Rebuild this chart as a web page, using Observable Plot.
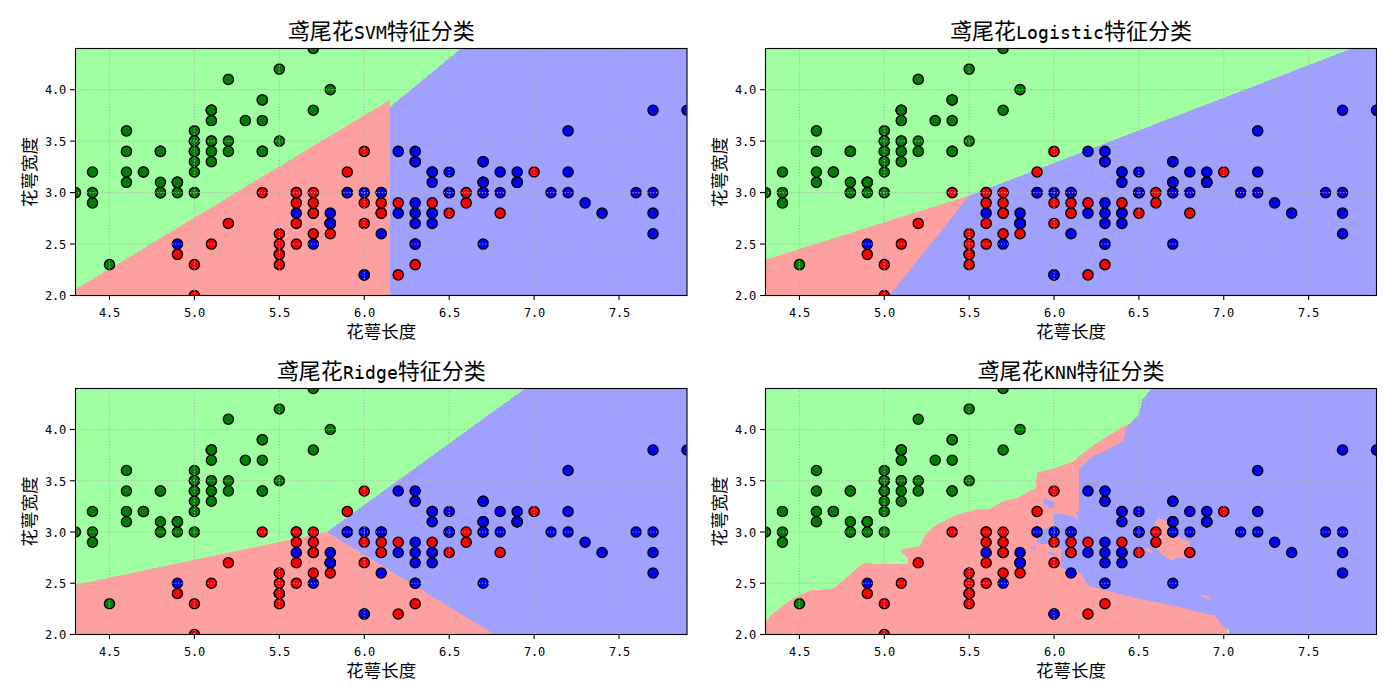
<!DOCTYPE html>
<html>
<head>
<meta charset="utf-8">
<style>
@font-face{font-family:"HalfLatin";src:local("DejaVu Sans Mono");size-adjust:83%;unicode-range:U+0020-007E}
html,body{margin:0;padding:0;background:#fff}
#fig{position:relative;width:1400px;height:700px;overflow:hidden}
#fig svg{position:absolute;background:transparent;max-width:none}
</style>
<script src="https://cdn.jsdelivr.net/npm/d3@7"></script>
<script src="https://cdn.jsdelivr.net/npm/@observablehq/plot@0.6"></script>
</head>
<body>
<div id="fig"></div>
<script>
// Iris sepal measurements, in drawing order
const setosaLength = [5.1,4.9,4.7,4.6,5.0,5.4,4.6,5.0,4.4,4.9,5.4,4.8,4.8,4.3,5.8,5.7,5.4,5.1,5.7,5.1,5.4,5.1,4.6,5.1,4.8,5.0,5.0,5.2,5.2,4.7,4.8,5.4,5.2,5.5,4.9,5.0,5.5,4.9,4.4,5.1,5.0,4.5,4.4,5.0,5.1,4.8,5.1,4.6,5.3,5.0];
const setosaWidth  = [3.5,3.0,3.2,3.1,3.6,3.9,3.4,3.4,2.9,3.1,3.7,3.4,3.0,3.0,4.0,4.4,3.9,3.5,3.8,3.8,3.4,3.7,3.6,3.3,3.4,3.0,3.4,3.5,3.4,3.2,3.1,3.4,4.1,4.2,3.1,3.2,3.5,3.1,3.0,3.4,3.5,2.3,3.2,3.5,3.8,3.0,3.8,3.2,3.7,3.3];
const versicolorLength = [7.0,6.4,6.9,5.5,6.5,5.7,6.3,4.9,6.6,5.2,5.0,5.9,6.0,6.1,5.6,6.7,5.6,5.8,6.2,5.6,5.9,6.1,6.3,6.1,6.4,6.6,6.8,6.7,6.0,5.7,5.5,5.5,5.8,6.0,5.4,6.0,6.7,6.3,5.6,5.5,5.5,6.1,5.8,5.0,5.6,5.7,5.7,6.2,5.1,5.7];
const versicolorWidth  = [3.2,3.2,3.1,2.3,2.8,2.8,3.3,2.4,2.9,2.7,2.0,3.0,2.2,2.9,2.9,3.1,3.0,2.7,2.2,2.5,3.2,2.8,2.5,2.8,2.9,3.0,2.8,3.0,2.9,2.6,2.4,2.4,2.7,2.7,3.0,3.4,3.1,2.3,3.0,2.5,2.6,3.0,2.6,2.3,2.7,3.0,2.9,2.9,2.5,2.8];
const virginicaLength = [6.3,5.8,7.1,6.3,6.5,7.6,4.9,7.3,6.7,7.2,6.5,6.4,6.8,5.7,5.8,6.4,6.5,7.7,7.7,6.0,6.9,5.6,7.7,6.3,6.7,7.2,6.2,6.1,6.4,7.2,7.4,7.9,6.4,6.3,6.1,7.7,6.3,6.4,6.0,6.9,6.7,6.9,5.8,6.8,6.7,6.7,6.3,6.5,6.2,5.9];
const virginicaWidth  = [3.3,2.7,3.0,2.9,3.0,3.0,2.5,2.9,2.5,3.6,3.2,2.7,3.0,2.5,2.8,3.2,3.0,3.8,2.6,2.2,3.2,2.8,2.8,2.7,3.3,3.2,2.8,3.0,2.8,3.0,2.8,3.8,2.8,2.8,2.6,3.0,3.4,3.1,3.0,3.1,3.1,3.1,2.7,3.2,3.3,3.0,2.5,3.0,3.4,3.0];

// Axis text
const xTicks = [4.5,5.0,5.5,6.0,6.5,7.0,7.5];
const yTicks = [2.0,2.5,3.0,3.5,4.0];
const xLabel = "花萼长度";
const yLabel = "花萼宽度";

// Class regions, [sepal length, sepal width] outlines
const fullBox = [[4.3,2],[7.9,2],[7.9,4.4],[4.3,4.4]];

const svmRed  = [[4.3,2],[6.15,2],[6.15,3.9],[4.3,2.06]];
const svmBlue = [[6.15,2],[7.9,2],[7.9,4.4],[6.57,4.4],[6.15,3.83]];

const logisticRed  = [[4.3,2],[5.03,2],[5.5,2.97],[4.3,2.348]];
const logisticBlue = [[5.03,2],[7.9,2],[7.9,4.4],[7.756,4.4],[5.5,2.97]];

const ridgeRed  = [[4.3,2],[6.767,2],[5.78,3.0],[4.3,2.484]];
const ridgeBlue = [[6.767,2],[7.9,2],[7.9,4.4],[6.947,4.4],[5.78,3.0]];

const knnRed = [[4.3,2],[4.3,2.12],[4.33,2.18],[4.39,2.27],[4.47,2.36],[4.565,2.43],[4.70,2.45],[4.78,2.56],[4.88,2.70],[4.94,2.69],[5.14,2.69],[5.14,2.75],[5.105,2.79],[5.105,2.83],[5.21,2.865],[5.24,2.97],[5.31,3.075],[5.43,3.17],[5.55,3.22],[5.615,3.22],[5.70,3.30],[5.78,3.33],[5.89,3.425],[5.90,3.58],[6.0,3.62],[6.115,3.69],[6.21,3.82],[6.31,3.93],[6.39,4.01],[6.44,4.05],[6.46,4.05],[7.03,2]];
const knnBlue = [[6.577,4.4],[6.57,4.39],[6.52,4.29],[6.50,4.14],[6.44,4.05],[6.42,3.98],[6.41,3.885],[6.31,3.80],[6.23,3.74],[6.15,3.62],[6.15,3.205],[6.125,3.189],[6.144,3.147],[6.135,3.108],[6.111,3.153],[6.056,3.173],[5.997,3.173],[5.997,3.059],[5.948,3.037],[5.923,2.995],[5.903,2.92],[5.899,2.893],[5.968,2.875],[6.04,2.842],[6.04,2.646],[6.135,2.632],[6.174,2.553],[6.203,2.476],[6.31,2.428],[6.508,2.347],[6.704,2.282],[6.90,2.20],[6.949,2.185],[6.998,2.07],[7.03,2.045],[7.03,2],[7.9,2],[7.9,4.4]];
const knnBlueA = [[5.942,3.341],[5.968,3.309],[5.997,3.296],[5.997,3.231],[5.968,3.238],[5.942,3.270]];
const knnBlueB = [[5.860,2.855],[5.895,2.862],[5.895,2.829],[5.864,2.839]];
const knnBlueC = [[5.962,2.807],[6.007,2.791],[6.021,2.758],[5.978,2.778]];
const knnRedIsland = [[6.602,3.114],[6.622,3.134],[6.661,3.114],[6.684,3.011],[6.733,2.952],[6.798,2.907],[6.802,2.833],[6.812,2.768],[6.773,2.745],[6.724,2.752],[6.694,2.709],[6.681,2.735],[6.645,2.768],[6.616,2.816],[6.586,2.881],[6.582,3.011]];
const knnRedBitA = [[6.543,2.839],[6.557,2.842],[6.586,2.800],[6.567,2.794],[6.547,2.81]];
const knnRedBitB = [[6.855,2.385],[6.89,2.385],[6.926,2.356],[6.926,2.33],[6.89,2.356]];

const lightGreen = "#A0FFA0", lightRed = "#FFA0A0", lightBlue = "#A0A0FF";

const panels = [
  {title:"鸢尾花SVM特征分类", left:0, top:0, regions:[[svmRed,lightRed],[svmBlue,lightBlue]]},
  {title:"鸢尾花Logistic特征分类", left:700, top:0, regions:[[logisticRed,lightRed],[logisticBlue,lightBlue]]},
  {title:"鸢尾花Ridge特征分类", left:0, top:350, regions:[[ridgeRed,lightRed],[ridgeBlue,lightBlue]]},
  {title:"鸢尾花KNN特征分类", left:700, top:350, regions:[[knnRed,lightRed],[knnBlue,lightBlue],[knnBlueA,lightBlue],[knnBlueB,lightBlue],[knnBlueC,lightBlue],[knnRedIsland,lightRed],[knnRedBitA,lightRed],[knnRedBitB,lightRed]]}
];

const irisTable = [
  ...setosaLength.map((v,i)=>({x:v,y:setosaWidth[i],c:"#008000"})),
  ...versicolorLength.map((v,i)=>({x:v,y:versicolorWidth[i],c:"#ff0000"})),
  ...virginicaLength.map((v,i)=>({x:v,y:virginicaWidth[i],c:"#0000ff"}))
];

const cjk = "HalfLatin,'Noto Sans CJK SC','Noto Sans',sans-serif";
const fig = document.getElementById("fig");

for (const p of panels) {
  const isRight = p.left > 0, isBottom = p.top > 0;
  const regionMark = ([pts,color]) => Plot.line(pts,{x:d=>d[0],y:d=>d[1],curve:"linear-closed",fill:color,stroke:"none",shapeRendering:"crispEdges"});
  const svg = Plot.plot({
    width:700,
    height:350,
    marginLeft:isRight?65:75,
    marginRight:isRight?24:13.5,
    marginTop:isBottom?38:48,
    marginBottom:isBottom?66:55,
    style:{fontFamily:cjk,background:"transparent",color:"#000"},
    x:{domain:[4.3,7.9]},
    y:{domain:[2,4.4]},
    marks:[
      regionMark([fullBox,lightGreen]),
      ...p.regions.map(regionMark),
      Plot.dot(irisTable,{x:"x",y:"y",r:5.1,fill:"c",stroke:"#000",strokeWidth:1.39,clip:true}),
      Plot.gridX(xTicks,{stroke:"#b0b0b0",strokeOpacity:1,strokeWidth:1.1,strokeDasharray:"1.1,1.85"}),
      Plot.gridY(yTicks,{stroke:"#b0b0b0",strokeOpacity:1,strokeWidth:1.1,strokeDasharray:"1.1,1.85"}),
      Plot.frame({stroke:"#000",strokeWidth:1.1,fill:"none"}),
      Plot.axisX({ticks:xTicks,tickFormat:d3.format(".1f"),tickSize:5,tickPadding:6,label:null,fontSize:15,stroke:"#000",strokeWidth:1.1}),
      Plot.axisY({ticks:yTicks,tickFormat:d3.format(".1f"),tickSize:5,tickPadding:5,label:null,fontSize:15,stroke:"#000",strokeWidth:1.1}),
      Plot.text([p.title],{frameAnchor:"top",lineAnchor:"middle",dy:-17,fontSize:22,fill:"#000"}),
      Plot.text([xLabel],{frameAnchor:"bottom",lineAnchor:"middle",dy:37,fontSize:17.5,fill:"#000"}),
      Plot.text([yLabel],{frameAnchor:"left",textAnchor:"middle",lineAnchor:"middle",rotate:-90,dx:-45,fontSize:17.5,fill:"#000"})
    ]
  });
  svg.style.left = p.left + "px";
  svg.style.top = p.top + "px";
  fig.appendChild(svg);
}
</script>
</body>
</html>
